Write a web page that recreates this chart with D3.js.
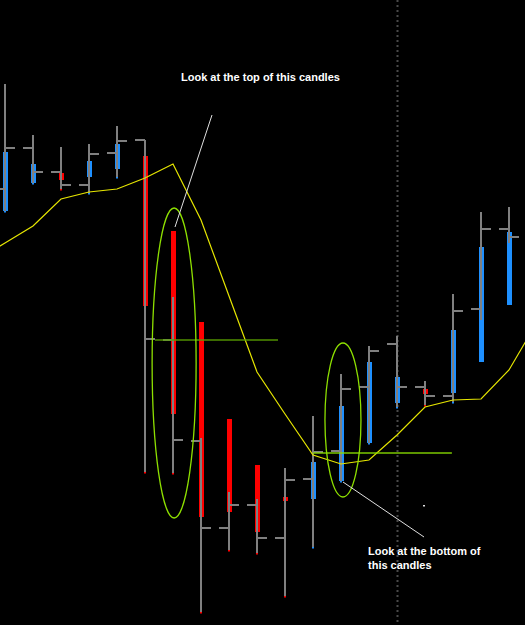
<!DOCTYPE html>
<html>
<head>
<meta charset="utf-8">
<script src="https://cdn.jsdelivr.net/npm/d3@7"></script>
<style>
  html, body { margin: 0; padding: 0; background: #000; }
  svg { display: block; }
</style>
</head>
<body>
<div id="chart"></div>
<script>
var bars   = [0, 1, 2, 3, 4, 5, 6, 7, 8, 9, 10, 11, 12, 13, 14, 15, 16, 17, 18];
var highs  = [541, 490, 478, 481, 499, 485, 328, 187, 133, 126, 157, 209, 251, 279, 289, 244, 331, 413, 418];
var lows   = [414, 442, 436, 432, 448, 153, 152, 13, 75, 72, 29, 78, 144, 182, 218, 220, 223, 305, 382];
var opens  = [436, 477, 453, 440, 472, 485, 285, 184, 97, 120, 87, 146, 174, 238, 281, 238, 229, 316, 396];
var closes = [477, 453, 440, 471, 484, 286, 185, 97, 120, 87, 145, 173, 236, 274, 238, 229, 314, 396, 388];
// coloured candle bodies (top, bottom) that sit behind the grey bars
var bodyTop = [473, 461, 452, 464, 481, 469, 394, 303, 206, 160, 128, 163, 219, 263, 248, 236, 295, 378, 393];
var bodyBot = [414, 442, 445, 448, 456, 319, 211, 108, 113, 93, 124, 126, 144, 182, 222, 231, 232, 263, 320];
var bodyUp  = [1, 1, 0, 1, 1, 0, 0, 0, 0, 0, 0, 1, 1, 1, 1, 0, 1, 1, 1];

// moving average, bar -1 .. 19
var maBars   = [-1, 0, 1, 2, 3, 4, 5, 6, 7, 8, 9, 10, 11, 12, 13, 14, 15, 16, 17, 18, 19];
var maValues = [365, 382, 399, 426, 433, 436, 447, 461, 405, 329, 253, 211, 170, 161, 165, 190, 218, 225, 226, 255, 303];

var labelTop = "Look at the top of this candles";
var labelBottom = ["Look at the bottom of", "this candles"];

var width = 525, height = 625;

var x = d3.scaleLinear().domain([0, 18]).range([5, 509]);
var y = d3.scaleLinear().domain([0, 625]).range([625, 0]);

var svg = d3.select('#chart').append('svg')
  .attr('width', width)
  .attr('height', height)
  .style('background', '#000');

// separator of the current session
svg.append('line')
  .attr('x1', x(14) + 0.5).attr('x2', x(14) + 0.5)
  .attr('y1', 0).attr('y2', height)
  .attr('stroke', '#4a4a4a')
  .attr('stroke-width', 2)
  .attr('stroke-dasharray', '2,3');

// coloured candles
var blue = '#1e90ff', red = '#ff0000';
bars.forEach(function(d, i) {
  var col = bodyUp[i] ? blue : red;
  svg.append('rect')
    .attr('x', x(d) - 1).attr('width', 2)
    .attr('y', y(highs[i])).attr('height', y(lows[i]) - y(highs[i]) + 1.5)
    .attr('fill', col);
  svg.append('rect')
    .attr('x', x(d) - 2).attr('width', 5)
    .attr('y', y(bodyTop[i])).attr('height', Math.max(2, y(bodyBot[i]) - y(bodyTop[i])))
    .attr('fill', col);
});

// grey OHLC bars
var grey = '#808080';
bars.forEach(function(d, i) {
  var cx = x(d);
  svg.append('line')
    .attr('x1', cx).attr('x2', cx)
    .attr('y1', y(highs[i])).attr('y2', y(lows[i]))
    .attr('stroke', grey).attr('stroke-width', 2);
  svg.append('line')
    .attr('x1', cx - 10).attr('x2', cx)
    .attr('y1', y(opens[i])).attr('y2', y(opens[i]))
    .attr('stroke', grey).attr('stroke-width', 2);
  svg.append('line')
    .attr('x1', cx).attr('x2', cx + 10)
    .attr('y1', y(closes[i])).attr('y2', y(closes[i]))
    .attr('stroke', grey).attr('stroke-width', 2);
});

// moving average
var ma = d3.line()
  .x(function(d, i) { return x(maBars[i]); })
  .y(function(d) { return y(d); });
svg.append('path')
  .datum(maValues)
  .attr('d', ma)
  .attr('fill', 'none')
  .attr('stroke', '#e6e600')
  .attr('stroke-width', 1.2);

// green level lines
svg.append('line')
  .attr('x1', x(5) + 10).attr('x2', x(9.75))
  .attr('y1', y(285)).attr('y2', y(285))
  .attr('stroke', '#5aa000').attr('stroke-opacity', 0.9).attr('stroke-width', 1.6);
svg.append('line')
  .attr('x1', x(11)).attr('x2', x(15.96))
  .attr('y1', y(172)).attr('y2', y(172))
  .attr('stroke', '#88dd00').attr('stroke-opacity', 0.9).attr('stroke-width', 1.4);

// ellipses round the candles
svg.append('ellipse')
  .attr('cx', x(6.04)).attr('cy', y(262))
  .attr('rx', 22).attr('ry', y(107) - y(262))
  .attr('fill', 'none').attr('stroke', '#8ee000').attr('stroke-width', 1.3);
svg.append('ellipse')
  .attr('cx', x(12.07)).attr('cy', y(205))
  .attr('rx', 18).attr('ry', y(128) - y(205))
  .attr('fill', 'none').attr('stroke', '#8ee000').attr('stroke-width', 1.3);

// pointers
svg.append('line')
  .attr('x1', 212).attr('y1', 115).attr('x2', 175).attr('y2', 227)
  .attr('stroke', '#e0e0e0').attr('stroke-width', 1);
svg.append('line')
  .attr('x1', 343).attr('y1', 482).attr('x2', 424).attr('y2', 537)
  .attr('stroke', '#e0e0e0').attr('stroke-width', 1);
svg.append('rect')
  .attr('x', 423).attr('y', 505).attr('width', 2).attr('height', 1.5)
  .attr('fill', '#ddd');

var font = '"Liberation Sans", Arial, sans-serif';
svg.append('text')
  .attr('x', 181).attr('y', 81)
  .attr('fill', '#fff')
  .style('font-family', font).style('font-weight', 'bold').style('font-size', '11px')
  .text(labelTop);
svg.selectAll('text.bottom')
  .data(labelBottom)
  .enter().append('text')
  .attr('class', 'bottom')
  .attr('x', 368)
  .attr('y', function(d, i) { return 555 + i * 14; })
  .attr('fill', '#fff')
  .style('font-family', font).style('font-weight', 'bold').style('font-size', '11px')
  .text(function(d) { return d; });
</script>
</body>
</html>
